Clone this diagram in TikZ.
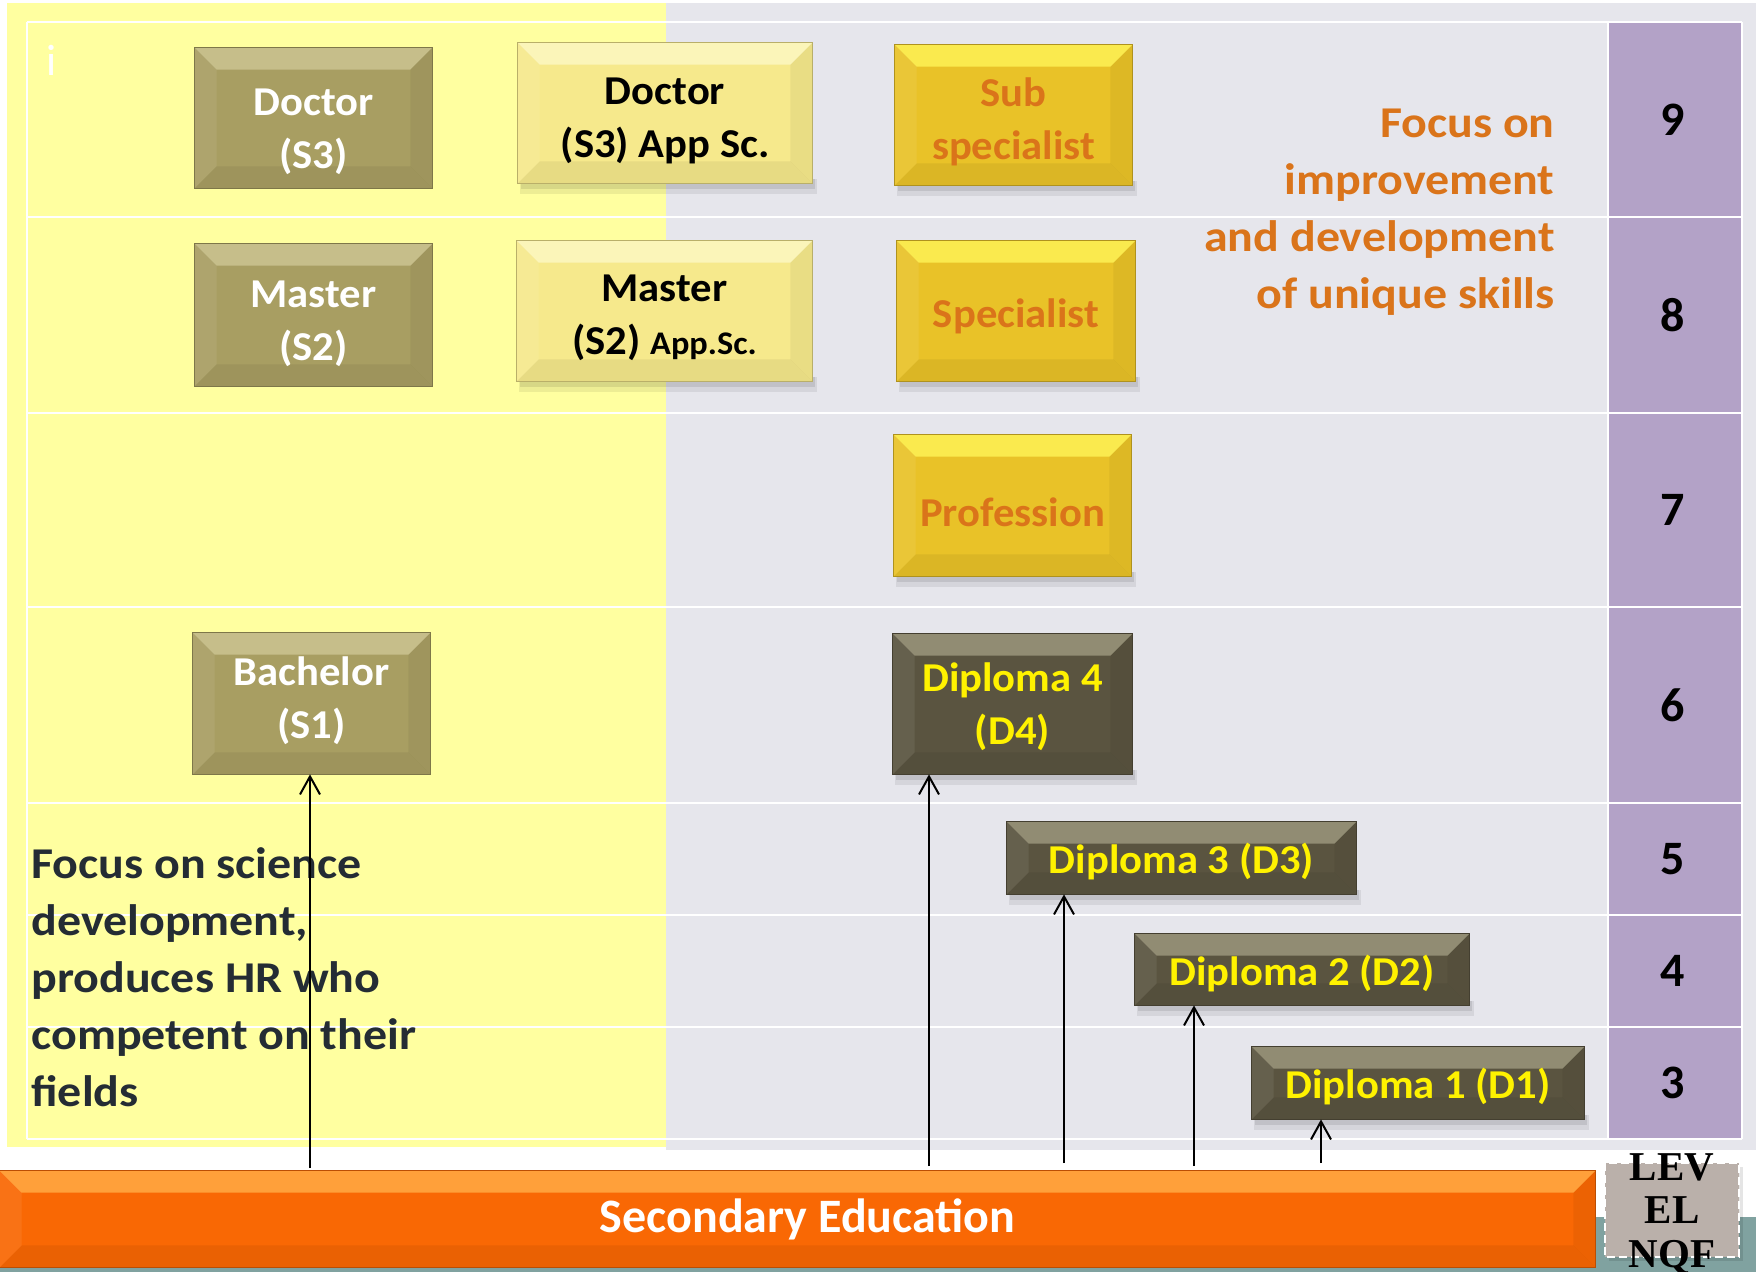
\documentclass[tikz,border=0pt]{standalone}
\usepackage{fontspec}
\setmainfont{Carlito}
\newfontfamily\boxfont[FakeStretch=1.04]{Carlito}
\newfontfamily\focusfont[FakeStretch=1.09]{Carlito}
\newfontfamily\nqffont{Liberation Serif}
\usetikzlibrary{calc,arrows.meta}

\pgfdeclarelayer{back}
\pgfdeclarelayer{faces}
\pgfsetlayers{back,faces,main}

\definecolor{panelyellow}{RGB}{255,255,160}
\definecolor{panelgrey}{RGB}{230,230,236}
\definecolor{levelpurple}{RGB}{179,162,199}
\definecolor{olivebox}{RGB}{168,158,98}
\definecolor{olivehi}{RGB}{198,190,138}
\definecolor{paleyellow}{RGB}{246,233,140}
\definecolor{palehi}{RGB}{251,245,185}
\definecolor{goldbox}{RGB}{233,194,40}
\definecolor{goldhi}{RGB}{250,234,78}
\definecolor{darkbox}{RGB}{90,84,64}
\definecolor{darkhi}{RGB}{145,140,115}
\definecolor{orangebar}{RGB}{249,104,4}
\definecolor{orangehi}{RGB}{255,160,58}
\definecolor{orangetext}{RGB}{218,116,26}
\definecolor{slatetext}{RGB}{36,44,52}
\definecolor{nqfgrey}{RGB}{186,176,170}
\definecolor{tealstrip}{RGB}{128,162,160}

\tikzset{every picture/.style={line width=0.75pt}}
\tikzset{
  degree/.style={inner sep=0pt, align=center, font=\boxfont\fontsize{20.5}{26.5}\selectfont\bfseries},
  sqbox/.style={minimum width=118.5pt, minimum height=70pt},
  widebox/.style={minimum width=147pt, minimum height=70pt},
  levelnum/.style={inner sep=0pt, font=\fontsize{24}{24}\selectfont\bfseries},
  focustxt/.style={inner sep=0pt, font=\focusfont\fontsize{22}{28.5}\selectfont\bfseries},
  gridline/.style={white, line width=1.4pt},
  arr/.style={-{Straight Barb[length=9pt,width=10pt,line width=1pt]}, line width=1pt},
}

% text lines of a box, moved by #1 (negative = down)
\newcommand{\boxtext}[2]{\raisebox{#1}[\height][\depth]{\begin{tabular}{@{}c@{}}#2\end{tabular}}}

% bevelled face behind a node: node, face colour, highlight colour
\def\bw{22}
\newcommand{\boxbevel}[3]{%
  \begin{pgfonlayer}{faces}
    \fill[#2] (#1.north west) rectangle (#1.south east);
    \fill[#3] (#1.north west) -- (#1.north east) -- ($(#1.north east)+(-\bw,\bw)$) -- ($(#1.north west)+(\bw,\bw)$) -- cycle;
    \fill[black,opacity=.06] (#1.south west) -- (#1.south east) -- ($(#1.south east)+(-\bw,-\bw)$) -- ($(#1.south west)+(\bw,-\bw)$) -- cycle;
    \fill[white,opacity=.07] (#1.north west) -- ($(#1.north west)+(\bw,\bw)$) -- ($(#1.south west)+(\bw,-\bw)$) -- (#1.south west) -- cycle;
    \fill[black,opacity=.05] (#1.north east) -- ($(#1.north east)+(-\bw,\bw)$) -- ($(#1.south east)+(-\bw,-\bw)$) -- (#1.south east) -- cycle;
    \draw[#2!75!black,line width=0.5pt] (#1.north west) rectangle (#1.south east);
  \end{pgfonlayer}}
% soft shadow under a node
\newcommand{\boxshadow}[1]{%
  \begin{pgfonlayer}{faces}
    \fill[black,opacity=.07] ($(#1.south west)+(2,-4)$) rectangle ($(#1.south east)+(5,11)$);
    \fill[black,opacity=.09] ($(#1.south west)+(3,-4)$) rectangle ($(#1.south east)+(3,6)$);
  \end{pgfonlayer}}

\begin{document}
\begin{tikzpicture}[x=0.5pt,y=0.5pt,yscale=-1,xscale=1]
\useasboundingbox (0,0) rectangle (1756,1272);

\begin{pgfonlayer}{back}
%Shape: Rectangle
\fill[tealstrip] (0,1217) rectangle (1756,1272);
%Shape: Rectangle
\fill[panelyellow] (7,3) rectangle (666,1147);
%Shape: Rectangle
\fill[panelgrey] (666,3) rectangle (1756,1150);
%Shape: Rectangle
\fill[levelpurple] (1608,22) rectangle (1742,1139);
%Straight Lines
\draw[gridline] (27,22) -- (1742,22);
\draw[gridline] (27,217) -- (1742,217);
\draw[gridline] (27,413) -- (1742,413);
\draw[gridline] (27,607) -- (1742,607);
\draw[gridline] (27,803) -- (1742,803);
\draw[gridline] (27,915) -- (1742,915);
\draw[gridline] (27,1027) -- (1742,1027);
\draw[gridline] (27,1139) -- (1742,1139);
%Straight Lines
\draw[gridline] (27,22) -- (27,1139);
\draw[gridline] (1742,22) -- (1742,1139);
\draw[gridline, line width=0.6pt] (1608,22) -- (1608,1139);
\end{pgfonlayer}

% Text Node
\node[inner sep=0pt, text=white, font=\fontsize{22}{22}\selectfont] (info) at (52,60) {i};

% Degree boxes
\node[degree, sqbox, text=white] (docS3) at (313.5,118) {\boxtext{-6.5pt}{Doctor\\(S3)}};
\node[degree, widebox, text=black] (docapp) at (665,113) {\boxtext{-3.8pt}{Doctor\\(S3) App Sc.}};
\node[degree, sqbox, text=orangetext] (subsp) at (1013.5,115) {\boxtext{-3.8pt}{Sub\\specialist}};

\node[degree, sqbox, minimum height=71pt, text=white] (masS2) at (313.5,315) {\boxtext{-4pt}{Master\\(S2)}};
\node[degree, widebox, minimum width=147.5pt, text=black] (masapp) at (664.5,311) {\boxtext{-3.2pt}{Master\\(S2) {\fontsize{16.5}{26.5}\selectfont App.Sc.}}};
\node[degree, sqbox, minimum width=119pt, text=orangetext] (spec) at (1016,311) {\boxtext{-3.2pt}{Specialist}};

\node[degree, sqbox, minimum height=70.5pt, text=orangetext] (prof) at (1012.5,505.5) {\boxtext{-5.2pt}{Profession}};

\node[degree, sqbox, minimum height=70.5pt, text=white] (bachS1) at (311.5,703.5) {\boxtext{1pt}{Bachelor\\(S1)}};
\node[degree, sqbox, minimum width=119.5pt, text=yellow] (dipD4) at (1012.5,704) {\boxtext{-1.6pt}{Diploma 4\\(D4)}};
\node[degree, minimum width=174.5pt, minimum height=36pt, text=yellow] (dipD3) at (1181.5,858) {\boxtext{-2.3pt}{Diploma 3 (D3)}};
\node[degree, minimum width=167pt, minimum height=35.5pt, text=yellow] (dipD2) at (1302,969.5) {\boxtext{-2.7pt}{Diploma 2 (D2)}};
\node[degree, minimum width=166pt, minimum height=36pt, text=yellow] (dipD1) at (1418,1083) {\boxtext{-2.2pt}{Diploma 1 (D1)}};

% Secondary education bar
\node[inner sep=0pt, minimum width=797.5pt, minimum height=48pt, text=white, font=\fontsize{24}{24}\selectfont\bfseries] (secedu) at (797.5,1219) {\hspace*{10pt}Secondary Education};

% faces
\boxbevel{docS3}{olivebox}{olivehi}
\boxshadow{docapp}
\boxbevel{docapp}{paleyellow}{palehi}
\boxshadow{subsp}
\boxbevel{subsp}{goldbox}{goldhi}
\boxbevel{masS2}{olivebox}{olivehi}
\boxshadow{masapp}
\boxbevel{masapp}{paleyellow}{palehi}
\boxshadow{spec}
\boxbevel{spec}{goldbox}{goldhi}
\boxshadow{prof}
\boxbevel{prof}{goldbox}{goldhi}
\boxbevel{bachS1}{olivebox}{olivehi}
\boxshadow{dipD4}
\boxbevel{dipD4}{darkbox}{darkhi}
\boxshadow{dipD3}
\boxbevel{dipD3}{darkbox}{darkhi}
\boxshadow{dipD2}
\boxbevel{dipD2}{darkbox}{darkhi}
\boxshadow{dipD1}
\boxbevel{dipD1}{darkbox}{darkhi}
\boxbevel{secedu}{orangebar}{orangehi}

% Text Node
\node[focustxt, anchor=north east, align=right, text=orangetext] (focusR) at (1555,109) {Focus on\\improvement\\and development\\of unique skills};
% Text Node
\node[focustxt, anchor=north west, align=left, text=slatetext] (focusL) at (31,847) {Focus on science\\development,\\produces HR who\\competent on their\\fields};

% Level numbers
\node[levelnum] (lv9) at (1673,120) {9};
\node[levelnum] (lv8) at (1673,315) {8};
\node[levelnum] (lv7) at (1673,510) {7};
\node[levelnum] (lv6) at (1673,705) {6};
\node[levelnum] (lv5) at (1673,859) {5};
\node[levelnum] (lv4) at (1673,971) {4};
\node[levelnum] (lv3) at (1673,1083) {3};

%Shape: Rectangle
\fill[black,opacity=.10] (1609,1167) rectangle (1743,1261);
\draw[white, fill=nqfgrey, line width=1pt, dash pattern=on 4pt off 2pt] (1605,1163) rectangle (1739,1257);
% Text Node
\node[inner sep=0pt, anchor=north, align=center, font=\nqffont\fontsize{20.5}{21.75}\selectfont\bfseries] (nqf) at (1672,1153) {LEV\\EL\\NQF};

% Arrows
\coordinate (footS1) at (310,1168);
\coordinate (footD4) at (929,1166);
\coordinate (footD3) at (1064,1163);
\coordinate (footD2) at (1194,1166);
\coordinate (footD1) at (1321,1163);
\draw[arr] (footS1) -- (footS1 |- bachS1.south);
\draw[arr] (footD4) -- (footD4 |- dipD4.south);
\draw[arr] (footD3) -- (footD3 |- dipD3.south);
\draw[arr] (footD2) -- (footD2 |- dipD2.south);
\draw[arr] (footD1) -- (footD1 |- dipD1.south);

\end{tikzpicture}
\end{document}
